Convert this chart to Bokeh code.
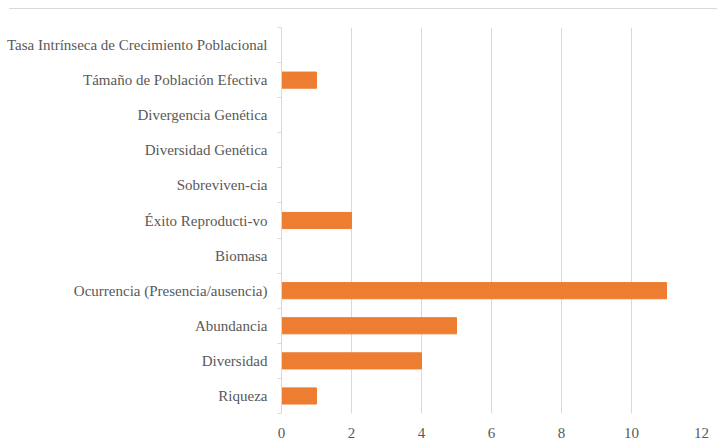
from bokeh.plotting import figure
from bokeh.models import Range1d, FixedTicker, Div
from bokeh.layouts import column
from bokeh.embed import file_html
from bokeh.resources import INLINE

# Data (bottom to top)
categories = [
    "Riqueza",
    "Diversidad",
    "Abundancia",
    "Ocurrencia (Presencia/ausencia)",
    "Biomasa",
    "Éxito Reproducti-vo",
    "Sobreviven-cia",
    "Diversidad Genética",
    "Divergencia Genética",
    "Támaño de Población Efectiva",
    "Tasa Intrínseca de Crecimiento Poblacional",
]
values = [1, 4, 5, 11, 0, 2, 0, 0, 0, 1, 0]
x_ticks = [0, 2, 4, 6, 8, 10, 12]

positions = list(range(len(categories)))

FONT = "Liberation Serif"
TXT = "#595959"
GRID = "#d9d9d9"

p = figure(width=717, height=434, output_backend="svg", toolbar_location=None,
           x_range=Range1d(0, 12), y_range=Range1d(-0.5, len(categories) - 0.5),
           min_border_left=281, min_border_right=16, min_border_top=18,
           min_border_bottom=30)
p.outline_line_color = None
p.background_fill_color = "white"
p.border_fill_color = "white"

p.hbar(y=positions, right=values, left=0, height=0.46,
       fill_color="#ED7D31", line_color="#ED7D31")

# x axis
p.xaxis.ticker = FixedTicker(ticks=x_ticks)
p.xaxis.axis_line_color = None
p.xaxis.major_tick_line_color = None
p.xaxis.minor_tick_line_color = None
p.xaxis.major_label_text_font = FONT
p.xaxis.major_label_text_font_size = "15px"
p.xaxis.major_label_text_color = TXT
p.xaxis.major_label_standoff = 8

# y axis
p.yaxis.ticker = FixedTicker(ticks=positions,
                             minor_ticks=[i - 0.5 for i in range(len(categories) + 1)])
p.yaxis.major_label_overrides = {i: c for i, c in zip(positions, categories)}
p.yaxis.major_tick_in = 0
p.yaxis.major_tick_out = 0
p.yaxis.minor_tick_in = 0
p.yaxis.minor_tick_out = 4
p.yaxis.minor_tick_line_color = GRID
p.yaxis.axis_line_color = GRID
p.yaxis.major_label_text_font = FONT
p.yaxis.major_label_text_font_size = "15px"
p.yaxis.major_label_text_color = TXT
p.yaxis.major_label_standoff = 10

p.xgrid.grid_line_color = GRID
p.xgrid.grid_line_width = 1
p.ygrid.grid_line_color = None

top = Div(text="", width=708, height=9, margin=(0, 0, 0, 9),
          styles={"border-bottom": "1.5px solid #d9d9d9", "box-sizing": "border-box"})

layout = column(top, p, spacing=0)

open("out.html", "w").write(file_html(layout, INLINE))
